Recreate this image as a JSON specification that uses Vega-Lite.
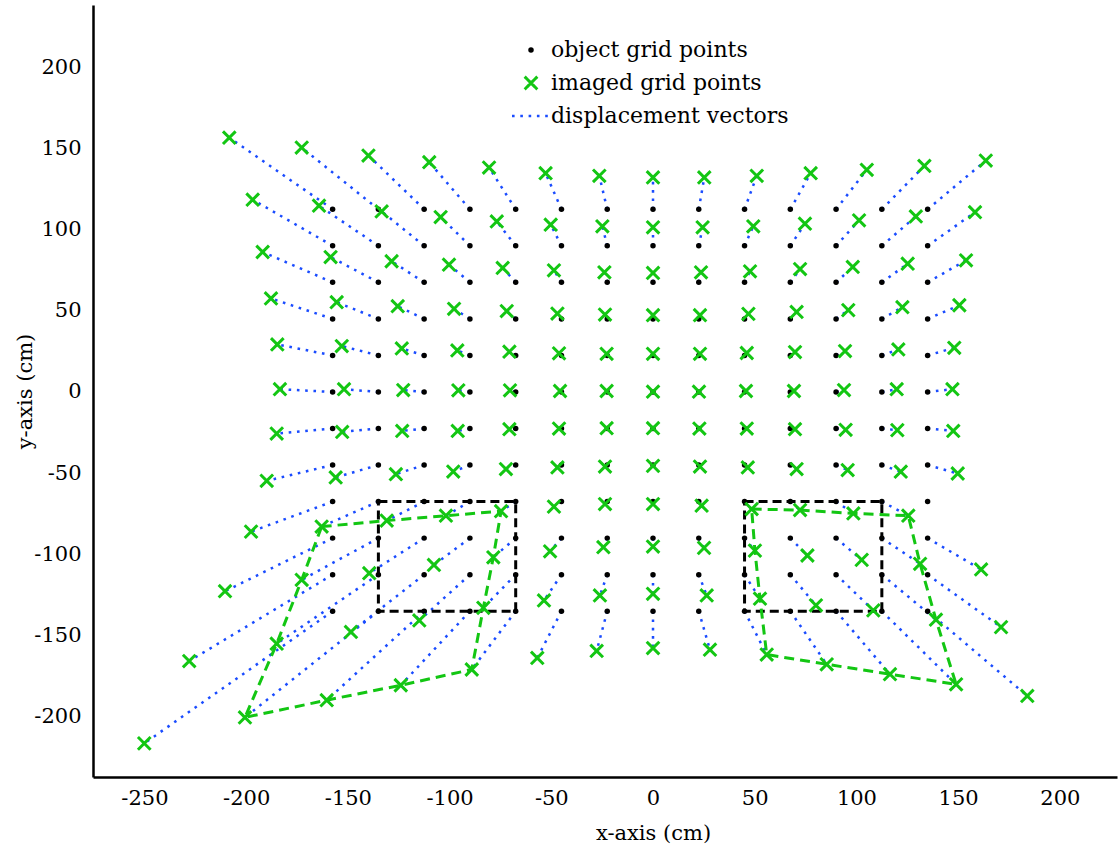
{
"$schema":"https://vega.github.io/schema/vega-lite/v6.json",
"width":1024,"height":772,
"autosize":{"type":"none"},
"padding":{"left":93,"top":5,"right":2,"bottom":74},
"background":"white",
"config":{"view":{"stroke":null},"font":"DejaVu Serif"},
"datasets":{
"grid":[
{"ox":-157.5,"oy":112.5,"ix":-208.3,"iy":156.6},{"ox":-135,"oy":112.5,"ix":-172.7,"iy":150.5},{"ox":-112.5,"oy":112.5,"ix":-139.9,"iy":145.6},{"ox":-90,"oy":112.5,"ix":-110.0,"iy":141.5},{"ox":-67.5,"oy":112.5,"ix":-80.6,"iy":138.2},{"ox":-45,"oy":112.5,"ix":-52.8,"iy":134.7},{"ox":-22.5,"oy":112.5,"ix":-26.4,"iy":133.1},{"ox":0,"oy":112.5,"ix":0,"iy":132.1},{"ox":22.5,"oy":112.5,"ix":25.2,"iy":132.1},{"ox":45,"oy":112.5,"ix":51.0,"iy":133.1},{"ox":67.5,"oy":112.5,"ix":77.5,"iy":134.7},{"ox":90,"oy":112.5,"ix":105.1,"iy":136.8},{"ox":112.5,"oy":112.5,"ix":133.4,"iy":139.2},{"ox":135,"oy":112.5,"ix":163.6,"iy":142.5},
{"ox":-157.5,"oy":90,"ix":-196.8,"iy":118.4},{"ox":-135,"oy":90,"ix":-164.2,"iy":114.7},{"ox":-112.5,"oy":90,"ix":-133.4,"iy":111.2},{"ox":-90,"oy":90,"ix":-104.4,"iy":107.7},{"ox":-67.5,"oy":90,"ix":-76.8,"iy":105.0},{"ox":-45,"oy":90,"ix":-50.3,"iy":103.0},{"ox":-22.5,"oy":90,"ix":-24.9,"iy":102.0},{"ox":0,"oy":90,"ix":0,"iy":101.4},{"ox":22.5,"oy":90,"ix":24.4,"iy":101.4},{"ox":45,"oy":90,"ix":49.3,"iy":102.0},{"ox":67.5,"oy":90,"ix":74.7,"iy":103.6},{"ox":90,"oy":90,"ix":101.3,"iy":105.7},{"ox":112.5,"oy":90,"ix":129.2,"iy":108.1},{"ox":135,"oy":90,"ix":158.3,"iy":110.7},
{"ox":-157.5,"oy":67.5,"ix":-191.9,"iy":86.2},{"ox":-135,"oy":67.5,"ix":-158.5,"iy":83.1},{"ox":-112.5,"oy":67.5,"ix":-128.5,"iy":80.5},{"ox":-90,"oy":67.5,"ix":-100.3,"iy":78.4},{"ox":-67.5,"oy":67.5,"ix":-73.9,"iy":76.4},{"ox":-45,"oy":67.5,"ix":-48.7,"iy":74.9},{"ox":-22.5,"oy":67.5,"ix":-23.9,"iy":73.7},{"ox":0,"oy":67.5,"ix":0,"iy":73.3},{"ox":22.5,"oy":67.5,"ix":23.6,"iy":73.7},{"ox":45,"oy":67.5,"ix":47.7,"iy":74.3},{"ox":67.5,"oy":67.5,"ix":72.3,"iy":75.7},{"ox":90,"oy":67.5,"ix":98.2,"iy":77.0},{"ox":112.5,"oy":67.5,"ix":125.2,"iy":79.0},{"ox":135,"oy":67.5,"ix":153.9,"iy":81.1},
{"ox":-157.5,"oy":45,"ix":-187.8,"iy":57.6},{"ox":-135,"oy":45,"ix":-155.5,"iy":55.3},{"ox":-112.5,"oy":45,"ix":-125.5,"iy":52.8},{"ox":-90,"oy":45,"ix":-97.8,"iy":51.2},{"ox":-67.5,"oy":45,"ix":-71.9,"iy":49.8},{"ox":-45,"oy":45,"ix":-47.0,"iy":48.3},{"ox":-22.5,"oy":45,"ix":-23.6,"iy":47.7},{"ox":0,"oy":45,"ix":0,"iy":47.3},{"ox":22.5,"oy":45,"ix":23.1,"iy":47.3},{"ox":45,"oy":45,"ix":46.9,"iy":48.1},{"ox":67.5,"oy":45,"ix":70.6,"iy":49.3},{"ox":90,"oy":45,"ix":96.0,"iy":50.4},{"ox":112.5,"oy":45,"ix":122.6,"iy":52.2},{"ox":135,"oy":45,"ix":150.6,"iy":53.4},
{"ox":-157.5,"oy":22.5,"ix":-184.7,"iy":29.3},{"ox":-135,"oy":22.5,"ix":-153.0,"iy":28.3},{"ox":-112.5,"oy":22.5,"ix":-123.5,"iy":26.8},{"ox":-90,"oy":22.5,"ix":-96.2,"iy":25.6},{"ox":-67.5,"oy":22.5,"ix":-70.6,"iy":24.8},{"ox":-45,"oy":22.5,"ix":-46.2,"iy":23.8},{"ox":-22.5,"oy":22.5,"ix":-22.8,"iy":23.5},{"ox":0,"oy":22.5,"ix":0,"iy":23.5},{"ox":22.5,"oy":22.5,"ix":23.1,"iy":23.5},{"ox":45,"oy":22.5,"ix":46.1,"iy":24.0},{"ox":67.5,"oy":22.5,"ix":69.8,"iy":24.6},{"ox":90,"oy":22.5,"ix":94.4,"iy":25.2},{"ox":112.5,"oy":22.5,"ix":120.6,"iy":26.2},{"ox":135,"oy":22.5,"ix":148.1,"iy":27.2},
{"ox":-157.5,"oy":0,"ix":-183.4,"iy":1.7},{"ox":-135,"oy":0,"ix":-151.9,"iy":1.7},{"ox":-112.5,"oy":0,"ix":-122.8,"iy":1.2},{"ox":-90,"oy":0,"ix":-95.7,"iy":1.0},{"ox":-67.5,"oy":0,"ix":-70.3,"iy":1.0},{"ox":-45,"oy":0,"ix":-45.7,"iy":0.6},{"ox":-22.5,"oy":0,"ix":-22.8,"iy":0.6},{"ox":0,"oy":0,"ix":0,"iy":0.2},{"ox":22.5,"oy":0,"ix":22.6,"iy":0.2},{"ox":45,"oy":0,"ix":45.7,"iy":0.6},{"ox":67.5,"oy":0,"ix":69.3,"iy":0.6},{"ox":90,"oy":0,"ix":93.9,"iy":1.2},{"ox":112.5,"oy":0,"ix":119.8,"iy":1.7},{"ox":135,"oy":0,"ix":147.2,"iy":1.7},
{"ox":-157.5,"oy":-22.5,"ix":-185.0,"iy":-25.6},{"ox":-135,"oy":-22.5,"ix":-152.8,"iy":-24.6},{"ox":-112.5,"oy":-22.5,"ix":-123.3,"iy":-24.0},{"ox":-90,"oy":-22.5,"ix":-96.0,"iy":-24.0},{"ox":-67.5,"oy":-22.5,"ix":-70.6,"iy":-22.9},{"ox":-45,"oy":-22.5,"ix":-46.2,"iy":-22.5},{"ox":-22.5,"oy":-22.5,"ix":-22.8,"iy":-22.3},{"ox":0,"oy":-22.5,"ix":0,"iy":-22.3},{"ox":22.5,"oy":-22.5,"ix":22.8,"iy":-22.5},{"ox":45,"oy":-22.5,"ix":46.1,"iy":-22.5},{"ox":67.5,"oy":-22.5,"ix":69.8,"iy":-22.9},{"ox":90,"oy":-22.5,"ix":94.7,"iy":-23.3},{"ox":112.5,"oy":-22.5,"ix":120.1,"iy":-23.5},{"ox":135,"oy":-22.5,"ix":147.6,"iy":-24.0},
{"ox":-157.5,"oy":-45,"ix":-189.9,"iy":-54.7},{"ox":-135,"oy":-45,"ix":-156.0,"iy":-52.6},{"ox":-112.5,"oy":-45,"ix":-126.4,"iy":-50.6},{"ox":-90,"oy":-45,"ix":-98.2,"iy":-49.0},{"ox":-67.5,"oy":-45,"ix":-72.3,"iy":-47.5},{"ox":-45,"oy":-45,"ix":-47.0,"iy":-46.5},{"ox":-22.5,"oy":-45,"ix":-23.6,"iy":-45.9},{"ox":0,"oy":-45,"ix":0,"iy":-45.5},{"ox":22.5,"oy":-45,"ix":23.1,"iy":-45.9},{"ox":45,"oy":-45,"ix":46.6,"iy":-46.5},{"ox":67.5,"oy":-45,"ix":70.6,"iy":-47.5},{"ox":90,"oy":-45,"ix":95.7,"iy":-48.1},{"ox":112.5,"oy":-45,"ix":121.8,"iy":-49.1},{"ox":135,"oy":-45,"ix":149.8,"iy":-50.2},
{"ox":-157.5,"oy":-67.5,"ix":-197.6,"iy":-86.0},{"ox":-135,"oy":-67.5,"ix":-162.9,"iy":-82.9},{"ox":-112.5,"oy":-67.5,"ix":-130.9,"iy":-79.2},{"ox":-90,"oy":-67.5,"ix":-101.8,"iy":-76.2},{"ox":-67.5,"oy":-67.5,"ix":-74.7,"iy":-73.4},{"ox":-45,"oy":-67.5,"ix":-48.7,"iy":-70.6},{"ox":-22.5,"oy":-67.5,"ix":-23.6,"iy":-69.0},{"ox":0,"oy":-67.5,"ix":0,"iy":-69.0},{"ox":22.5,"oy":-67.5,"ix":23.9,"iy":-70.0},{"ox":45,"oy":-67.5,"ix":48.5,"iy":-72.1},{"ox":67.5,"oy":-67.5,"ix":72.3,"iy":-72.7},{"ox":90,"oy":-67.5,"ix":98.5,"iy":-74.8},{"ox":112.5,"oy":-67.5,"ix":125.5,"iy":-76.2},{"ox":135,"oy":-67.5,"ix":null,"iy":null},
{"ox":-157.5,"oy":-90,"ix":-210.4,"iy":-122.7},{"ox":-135,"oy":-90,"ix":-172.7,"iy":-115.7},{"ox":-112.5,"oy":-90,"ix":-139.5,"iy":-111.6},{"ox":-90,"oy":-90,"ix":-107.7,"iy":-106.5},{"ox":-67.5,"oy":-90,"ix":-78.5,"iy":-101.8},{"ox":-45,"oy":-90,"ix":-50.6,"iy":-98.1},{"ox":-22.5,"oy":-90,"ix":-24.4,"iy":-95.6},{"ox":0,"oy":-90,"ix":0,"iy":-95.2},{"ox":22.5,"oy":-90,"ix":25.1,"iy":-96.0},{"ox":45,"oy":-90,"ix":50.1,"iy":-97.7},{"ox":67.5,"oy":-90,"ix":75.9,"iy":-100.7},{"ox":90,"oy":-90,"ix":102.6,"iy":-103.4},{"ox":112.5,"oy":-90,"ix":131.3,"iy":-105.8},{"ox":135,"oy":-90,"ix":161.3,"iy":-109.3},
{"ox":-157.5,"oy":-112.5,"ix":-228.0,"iy":-165.7},{"ox":-135,"oy":-112.5,"ix":-185.0,"iy":-155.0},{"ox":-112.5,"oy":-112.5,"ix":-148.5,"iy":-147.8},{"ox":-90,"oy":-112.5,"ix":-114.9,"iy":-140.7},{"ox":-67.5,"oy":-112.5,"ix":-83.4,"iy":-132.9},{"ox":-45,"oy":-112.5,"ix":-53.6,"iy":-128.4},{"ox":-22.5,"oy":-112.5,"ix":-26.1,"iy":-125.3},{"ox":0,"oy":-112.5,"ix":0,"iy":-124.3},{"ox":22.5,"oy":-112.5,"ix":26.4,"iy":-125.3},{"ox":45,"oy":-112.5,"ix":52.6,"iy":-127.3},{"ox":67.5,"oy":-112.5,"ix":80.1,"iy":-131.4},{"ox":90,"oy":-112.5,"ix":108.3,"iy":-134.5},{"ox":112.5,"oy":-112.5,"ix":139.1,"iy":-140.2},{"ox":135,"oy":-112.5,"ix":171.1,"iy":-144.8},
{"ox":-157.5,"oy":-135,"ix":-250.1,"iy":-216.4},{"ox":-135,"oy":-135,"ix":-200.6,"iy":-200.4},{"ox":-112.5,"oy":-135,"ix":-160.4,"iy":-189.8},{"ox":-90,"oy":-135,"ix":-124.0,"iy":-180.6},{"ox":-67.5,"oy":-135,"ix":-89.1,"iy":-170.9},{"ox":-45,"oy":-135,"ix":-56.9,"iy":-163.8},{"ox":-22.5,"oy":-135,"ix":-27.7,"iy":-159.5},{"ox":0,"oy":-135,"ix":0,"iy":-157.7},{"ox":22.5,"oy":-135,"ix":28.0,"iy":-158.7},{"ox":45,"oy":-135,"ix":55.9,"iy":-161.7},{"ox":67.5,"oy":-135,"ix":85.4,"iy":-167.7},{"ox":90,"oy":-135,"ix":116.5,"iy":-173.8},{"ox":112.5,"oy":-135,"ix":149.0,"iy":-180.0},{"ox":135,"oy":-135,"ix":184.0,"iy":-187.2}
],
"poly":[
{"p":"L","k":0,"x":-162.9,"y":-82.9},{"p":"L","k":1,"x":-130.9,"y":-79.2},{"p":"L","k":2,"x":-101.8,"y":-76.2},{"p":"L","k":3,"x":-74.7,"y":-73.4},{"p":"L","k":4,"x":-78.5,"y":-101.8},{"p":"L","k":5,"x":-83.4,"y":-132.9},{"p":"L","k":6,"x":-89.1,"y":-170.9},{"p":"L","k":7,"x":-124.0,"y":-180.6},{"p":"L","k":8,"x":-160.4,"y":-189.8},{"p":"L","k":9,"x":-200.6,"y":-200.4},{"p":"L","k":10,"x":-185.0,"y":-155.0},{"p":"L","k":11,"x":-172.7,"y":-115.7},{"p":"L","k":12,"x":-162.9,"y":-82.9},
{"p":"R","k":0,"x":48.5,"y":-72.1},{"p":"R","k":1,"x":72.3,"y":-72.7},{"p":"R","k":2,"x":98.5,"y":-74.8},{"p":"R","k":3,"x":125.5,"y":-76.2},{"p":"R","k":4,"x":131.3,"y":-105.8},{"p":"R","k":5,"x":139.1,"y":-140.2},{"p":"R","k":6,"x":149.0,"y":-180.0},{"p":"R","k":7,"x":116.5,"y":-173.8},{"p":"R","k":8,"x":85.4,"y":-167.7},{"p":"R","k":9,"x":55.9,"y":-161.7},{"p":"R","k":10,"x":52.6,"y":-127.3},{"p":"R","k":11,"x":50.1,"y":-97.7},{"p":"R","k":12,"x":48.5,"y":-72.1}
],
"boxes":[{"x1":-135,"x2":-67.5,"y1":-67.5,"y2":-135},{"x1":45,"x2":112.5,"y1":-67.5,"y2":-135}]
},
"encoding":{
"x":{"type":"quantitative","scale":{"domain":[-275.3,228.1],"nice":false,"zero":false},
 "axis":{"title":"x-axis (cm)","values":[-250,-200,-150,-100,-50,0,50,100,150,200],"grid":false,
 "domainColor":"black","domainWidth":2.5,"tickColor":"black","tickSize":0,"labelPadding":10,
 "labelFont":"DejaVu Serif","labelFontSize":21,"labelColor":"black",
 "labelExpr":"datum.value < 0 ? '-' + abs(datum.value) : '' + datum.value",
 "titleFont":"DejaVu Serif","titleFontSize":21,"titleFontWeight":"normal","titleColor":"black","titleX":560,"titleY":56,"titleBaseline":"middle"}},
"y":{"type":"quantitative","scale":{"domain":[-237.1,238.3],"nice":false,"zero":false},
 "axis":{"title":"y-axis (cm)","values":[-200,-150,-100,-50,0,50,100,150,200],"grid":false,
 "domainColor":"black","domainWidth":2.5,"tickColor":"black","tickSize":0,"labelPadding":12,
 "labelFont":"DejaVu Serif","labelFontSize":21,"labelColor":"black",
 "labelExpr":"datum.value < 0 ? '-' + abs(datum.value) : '' + datum.value",
 "titleFont":"DejaVu Serif","titleFontSize":21,"titleFontWeight":"normal","titleColor":"black","titleX":-68,"titleY":386,"titleBaseline":"middle","titleAngle":-90}}
},
"layer":[
{"data":{"name":"grid"},"transform":[{"filter":"datum.ix != null"}],
 "mark":{"type":"rule","strokeWidth":2.5,"strokeDash":[2.6,5.7],"strokeCap":"butt"},
 "encoding":{"x":{"field":"ox"},"y":{"field":"oy"},"x2":{"field":"ix"},"y2":{"field":"iy"},
 "color":{"datum":"displacement vectors","type":"nominal",
  "scale":{"domain":["object grid points","imaged grid points","displacement vectors"],"range":["black","#13c613","#1a4cff"]},
  "legend":{"orient":"none","legendX":427,"legendY":34,"title":null,"labelFont":"DejaVu Serif","labelFontSize":22,"labelColor":"black","labelLimit":0,
   "symbolSize":1444,"rowPadding":9,"labelOffset":9,
   "encode":{"symbols":{"update":{
    "shape":{"signal":"datum.value === 'imaged grid points' ? 'M-1,-1L1,1M1,-1L-1,1' : datum.value === 'displacement vectors' ? 'stroke' : 'circle'"},
    "size":{"signal":"datum.value === 'imaged grid points' ? 160 : datum.value === 'displacement vectors' ? 1444 : 30"},
    "fill":{"signal":"datum.value === 'object grid points' ? 'black' : 'transparent'"},
    "stroke":{"signal":"datum.value === 'object grid points' ? 'black' : datum.value === 'imaged grid points' ? '#13c613' : '#1a4cff'"},
    "strokeWidth":{"signal":"datum.value === 'imaged grid points' ? 3 : datum.value === 'displacement vectors' ? 2.5 : 0"},
    "strokeDash":{"signal":"datum.value === 'displacement vectors' ? [2.6,5.7] : [1,0]"},
    "opacity":{"value":1}
   }}}}}}},
{"data":{"name":"boxes"},
 "mark":{"type":"rect","filled":false,"stroke":"black","strokeWidth":3,"strokeDash":[9,5]},
 "encoding":{"x":{"field":"x1"},"x2":{"field":"x2"},"y":{"field":"y1"},"y2":{"field":"y2"}}},
{"data":{"name":"poly"},
 "mark":{"type":"line","stroke":"#13c613","strokeWidth":3,"strokeDash":[10,6]},
 "encoding":{"x":{"field":"x"},"y":{"field":"y"},"detail":{"field":"p"},"order":{"field":"k"}}},
{"data":{"name":"grid"},
 "mark":{"type":"circle","size":30,"opacity":1},
 "encoding":{"x":{"field":"ox"},"y":{"field":"oy"},"color":{"datum":"object grid points","type":"nominal"}}},
{"data":{"name":"grid"},"transform":[{"filter":"datum.ix != null"}],
 "mark":{"type":"point","shape":"M-1,-1L1,1M1,-1L-1,1","filled":false,"size":160,"strokeWidth":3,"opacity":1},
 "encoding":{"x":{"field":"ix"},"y":{"field":"iy"},"color":{"datum":"imaged grid points","type":"nominal"}}}
]
}
